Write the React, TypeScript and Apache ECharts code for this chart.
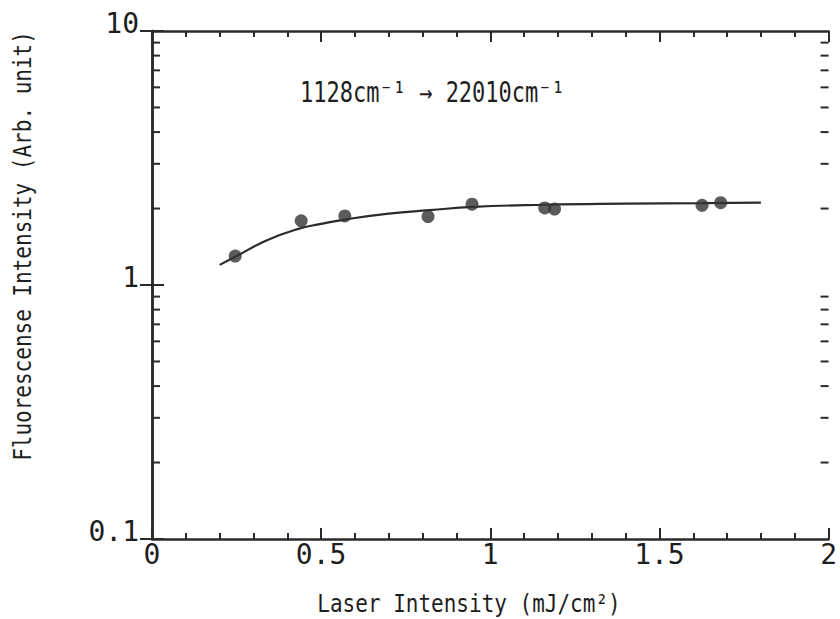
import React, { useEffect, useRef } from "react";
import * as echarts from "echarts";

// Measured points
const pointX = [0.246, 0.441, 0.57, 0.816, 0.946, 1.161, 1.19, 1.626, 1.681];
const pointY = [1.3, 1.79, 1.87, 1.86, 2.08, 2.01, 1.99, 2.06, 2.11];

// Fitted curve
const fitX = [0.2, 0.25, 0.34, 0.43, 0.5, 0.57, 0.7, 0.82, 0.95, 1.16, 1.4, 1.63, 1.8];
const fitY = [1.2, 1.3, 1.5, 1.66, 1.74, 1.81, 1.91, 1.97, 2.03, 2.07, 2.09, 2.1, 2.11];

// Log-axis minor tick values
const yMinor = [0.2, 0.3, 0.4, 0.5, 0.6, 0.7, 0.8, 0.9, 2, 3, 4, 5, 6, 7, 8, 9];

const xTitle = "Laser Intensity (mJ/cm²)";
const yTitle = "Fluorescense Intensity (Arb. unit)";
const note = "1128cm⁻¹ → 22010cm⁻¹";

const FONT = '"DejaVu Sans Mono", "Liberation Mono", monospace';
const INK = "#2a2a2a";
const TXT = "#1e1e1e";

export default function App() {
  const ref = useRef<HTMLDivElement>(null);
  useEffect(() => {
    if (!ref.current) return;
    const chart = echarts.init(ref.current, null, { renderer: "svg" });
    const axisLine = { show: true, lineStyle: { color: INK, width: 2.5 } };
    const xCommon = {
      type: "value",
      min: 0,
      max: 2,
      interval: 0.5,
      axisLine,
      axisTick: { show: true, inside: true, length: 11, lineStyle: { color: INK, width: 2 } },
      minorTick: { show: true, splitNumber: 5, length: 6, lineStyle: { color: INK, width: 2 } },
      splitLine: { show: false },
      minorSplitLine: { show: false },
    };
    const yCommon = {
      type: "log",
      logBase: 10,
      min: 0.1,
      max: 10,
      axisLine,
      axisTick: { show: true, inside: true, length: 12, lineStyle: { color: INK, width: 2 } },
      splitLine: { show: false },
    };
    chart.setOption({
      animation: false,
      backgroundColor: "#ffffff",
      grid: { left: 152, right: 6, top: 31, bottom: 80, containLabel: false },
      xAxis: [
        {
          ...xCommon,
          position: "bottom",
          axisLabel: {
            show: true,
            margin: 1,
            fontSize: 28,
            lineHeight: 28,
            fontFamily: FONT,
            color: TXT,
            formatter: (v: number) => String(v),
          },
        },
        { ...xCommon, position: "top", axisLabel: { show: false } },
      ],
      yAxis: [
        {
          ...yCommon,
          position: "left",
          axisLabel: {
            show: true,
            margin: 13,
            fontSize: 28,
            lineHeight: 16,
            verticalAlign: "bottom",
            fontFamily: FONT,
            color: TXT,
            formatter: (v: number) => String(v),
          },
        },
        { ...yCommon, position: "right", axisLabel: { show: false } },
      ],
      graphic: [
        {
          type: "text",
          x: 22,
          y: 246,
          rotation: Math.PI / 2,
          scaleY: 1.2,
          style: {
            text: yTitle,
            fontSize: 21,
            fontFamily: FONT,
            fill: TXT,
            align: "center",
            verticalAlign: "middle",
          },
        },
        {
          type: "text",
          x: 469,
          y: 603,
          scaleY: 1.2,
          style: {
            text: xTitle,
            fontSize: 21,
            fontFamily: FONT,
            fill: TXT,
            align: "center",
            verticalAlign: "middle",
          },
        },
        {
          type: "text",
          x: 300,
          y: 93,
          scaleY: 1.25,
          style: {
            text: note,
            fontSize: 22,
            fontFamily: FONT,
            fill: TXT,
            align: "left",
            verticalAlign: "middle",
          },
        },
      ],
      series: [
        {
          type: "custom",
          xAxisIndex: 0,
          yAxisIndex: 0,
          silent: true,
          clip: false,
          z: 5,
          data: yMinor.map((v) => [0, v]),
          renderItem: (params: any, api: any) => {
            const y = api.coord([0, api.value(1)])[1];
            const cs = params.coordSys;
            const st = { stroke: INK, lineWidth: 2 };
            return {
              type: "group",
              children: [
                { type: "line", shape: { x1: cs.x, y1: y, x2: cs.x + 8, y2: y }, style: st },
                {
                  type: "line",
                  shape: { x1: cs.x + cs.width, y1: y, x2: cs.x + cs.width - 8, y2: y },
                  style: st,
                },
              ],
            };
          },
        },
        {
          type: "line",
          xAxisIndex: 0,
          yAxisIndex: 0,
          data: fitX.map((x, i) => [x, fitY[i]]),
          smooth: true,
          showSymbol: false,
          lineStyle: { color: INK, width: 2.2 },
          z: 2,
        },
        {
          type: "scatter",
          xAxisIndex: 0,
          yAxisIndex: 0,
          data: pointX.map((x, i) => [x, pointY[i]]),
          symbol: "circle",
          symbolSize: 13,
          itemStyle: { color: "#333333" },
          z: 3,
        },
      ],
    });
    return () => chart.dispose();
  }, []);
  return (
    <div
      ref={ref}
      style={{ position: "fixed", left: 0, top: 0, width: 840, height: 619 }}
    />
  );
}
